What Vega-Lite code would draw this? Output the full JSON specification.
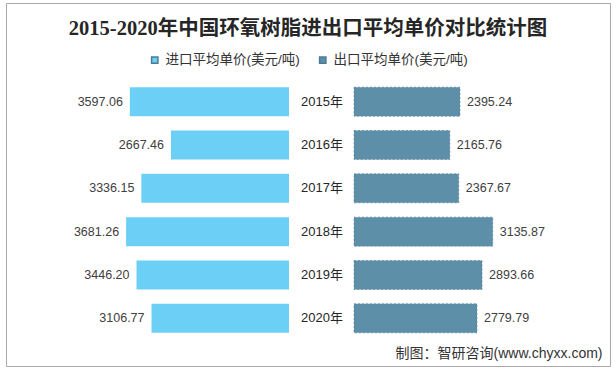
{
  "$schema": "https://vega.github.io/schema/vega-lite/v6.json",
  "width": 604,
  "height": 363,
  "autosize": {"type": "none"},
  "padding": {"left": 6, "top": 3, "right": 6, "bottom": 4},
  "background": "#ffffff",
  "title": {
    "text": "2015-2020年中国环氧树脂进出口平均单价对比统计图",
    "font": "Liberation Serif, Noto Sans CJK SC",
    "fontSize": 20.5,
    "fontWeight": "bold",
    "color": "#262626",
    "anchor": "middle",
    "offset": -36
  },
  "config": {
    "view": {"stroke": "#A9A9A9", "strokeWidth": 1},
    "font": "Liberation Sans, Noto Sans CJK SC"
  },
  "data": {
    "values": [
      {"year": "2015年", "import": 3597.06, "export": 2395.24},
      {"year": "2016年", "import": 2667.46, "export": 2165.76},
      {"year": "2017年", "import": 3336.15, "export": 2367.67},
      {"year": "2018年", "import": 3681.26, "export": 3135.87},
      {"year": "2019年", "import": 3446.20, "export": 2893.66},
      {"year": "2020年", "import": 3106.77, "export": 2779.79}
    ]
  },
  "encoding": {
    "y": {
      "field": "year",
      "type": "nominal",
      "sort": "ascending",
      "axis": null,
      "scale": {"range": [77, 337], "paddingInner": 0.33, "paddingOuter": 0.165}
    }
  },
  "layer": [
    {
      "mark": {"type": "bar"},
      "encoding": {
        "x": {"field": "import", "type": "quantitative", "axis": null,
              "scale": {"domain": [0, 4000], "range": [283, 106], "nice": false, "zero": true}},
        "color": {"datum": "进口平均单价(美元/吨)", "type": "nominal",
          "scale": {"domain": ["进口平均单价(美元/吨)", "出口平均单价(美元/吨)"], "range": ["#6CCFF6", "#5E8FA8"]},
          "legend": {
            "orient": "none", "direction": "horizontal", "columns": 2,
            "legendX": 142, "legendY": 50,
            "title": null, "symbolType": "square", "symbolSize": 40,
            "labelFontSize": 13.5, "labelColor": "#333333", "columnPadding": 16,
            "labelFont": "Liberation Sans, Noto Sans CJK SC", "labelLimit": 300
          }
        }
      }
    },
    {
      "mark": {"type": "text", "align": "right", "baseline": "middle", "dx": -7, "fontSize": 12.5, "color": "#404040"},
      "encoding": {
        "x": {"field": "import", "type": "quantitative", "axis": null,
              "scale": {"domain": [0, 4000], "range": [283, 106], "nice": false, "zero": true}},
        "text": {"field": "import", "type": "quantitative", "format": ".2f"}
      }
    },
    {
      "mark": {"type": "bar", "stroke": "#4C7C94", "strokeWidth": 0.6, "strokeDash": [2, 2]},
      "encoding": {
        "x": {"field": "export", "type": "quantitative",
              "scale": {"domain": [0, 4000], "range": [348, 525], "nice": false, "zero": true},
              "axis": {"orient": "bottom", "domain": false, "ticks": false, "labels": false, "grid": false,
                       "title": "制图：智研咨询(www.chyxx.com)", "titleX": 596, "titleY": -13,
                       "titleAlign": "right", "titleBaseline": "middle", "titleAnchor": null,
                       "titleFontSize": 14, "titleFontWeight": "normal", "titleColor": "#333333",
                       "titleFont": "Liberation Sans, Noto Sans CJK SC"}},
        "color": {"datum": "出口平均单价(美元/吨)", "type": "nominal"}
      }
    },
    {
      "mark": {"type": "text", "align": "left", "baseline": "middle", "dx": 7, "fontSize": 12.5, "color": "#404040"},
      "encoding": {
        "x": {"field": "export", "type": "quantitative", "axis": null,
              "scale": {"domain": [0, 4000], "range": [348, 525], "nice": false, "zero": true}},
        "text": {"field": "export", "type": "quantitative", "format": ".2f"}
      }
    },
    {
      "mark": {"type": "text", "align": "center", "baseline": "middle", "dx": -32, "fontSize": 13, "color": "#262626"},
      "encoding": {
        "x": {"datum": 0, "type": "quantitative", "axis": null,
              "scale": {"domain": [0, 4000], "range": [348, 525], "nice": false, "zero": true}},
        "text": {"field": "year", "type": "nominal"}
      }
    }
  ],
  "resolve": {"scale": {"x": "independent"}, "axis": {"x": "independent"}}
}
